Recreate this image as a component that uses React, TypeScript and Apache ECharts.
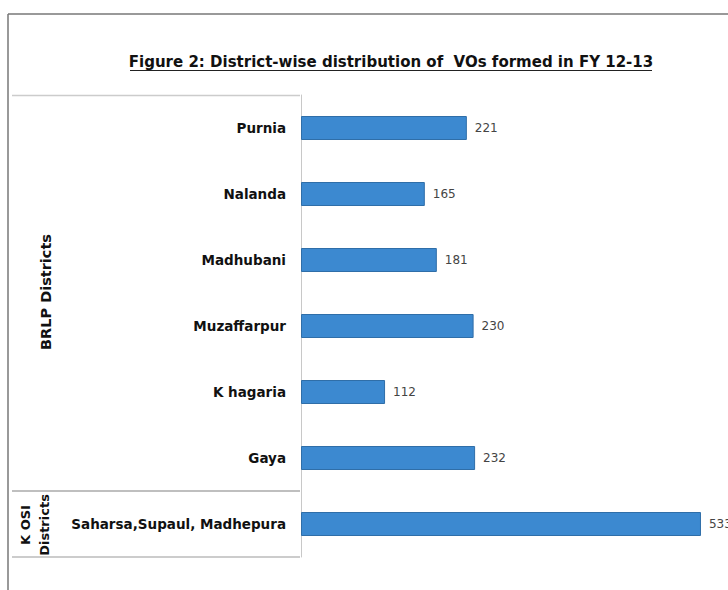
import React, { useEffect, useRef } from "react";
import * as echarts from "echarts";

const categories = [
  "Purnia",
  "Nalanda",
  "Madhubani",
  "Muzaffarpur",
  "K hagaria",
  "Gaya",
  "Saharsa,Supaul, Madhepura",
];
const values = [221, 165, 181, 230, 112, 232, 533];
const titleText = "Figure 2: District-wise distribution of  VOs formed in FY 12-13";
const groupLabels = ["BRLP Districts", "K OSI\nDistricts"];

export default function App() {
  const ref = useRef<HTMLDivElement>(null);
  useEffect(() => {
    if (!ref.current) return;
    const chart = echarts.init(ref.current, null, { renderer: "svg" });
    chart.setOption({
      animation: false,
      backgroundColor: "#ffffff",
      grid: { left: 301, right: 0, top: 95, bottom: 33, containLabel: false },
      xAxis: {
        type: "value",
        min: 0,
        max: 569,
        show: false,
      },
      yAxis: {
        type: "category",
        data: categories,
        inverse: true,
        axisLine: { show: true, lineStyle: { color: "#c8c8c8", width: 1 } },
        axisTick: { show: false },
        splitLine: { show: false },
        axisLabel: {
          margin: 15,
          color: "#111111",
          fontFamily: "DejaVu Sans",
          fontWeight: "bold",
          fontSize: 13.5,
        },
      },
      series: [
        {
          type: "bar",
          data: values,
          barWidth: 24,
          itemStyle: { color: "#3c89d0", borderColor: "#2f6ea8", borderWidth: 1 },
          label: {
            show: true,
            position: "right",
            distance: 8,
            color: "#444444",
            fontFamily: "DejaVu Sans",
            fontSize: 12,
          },
        },
      ],
      graphic: [
        { type: "line", shape: { x1: 8, y1: 14, x2: 728, y2: 14 }, style: { stroke: "#777", lineWidth: 1.5 } },
        { type: "line", shape: { x1: 8, y1: 14, x2: 8, y2: 590 }, style: { stroke: "#777", lineWidth: 1.5 } },
        { type: "line", shape: { x1: 12, y1: 95.5, x2: 300, y2: 95.5 }, style: { stroke: "#cccccc", lineWidth: 1.5 } },
        { type: "line", shape: { x1: 12, y1: 491, x2: 300, y2: 491 }, style: { stroke: "#aaaaaa", lineWidth: 1.5 } },
        { type: "line", shape: { x1: 12, y1: 557, x2: 300, y2: 557 }, style: { stroke: "#bbbbbb", lineWidth: 1.5 } },
        {
          type: "text",
          x: 391,
          y: 62,
          style: {
            text: titleText,
            fill: "#111",
            font: "bold 15px 'DejaVu Sans'",
            textAlign: "center",
            textVerticalAlign: "middle",
          },
        },
        { type: "line", shape: { x1: 130, y1: 70.5, x2: 652, y2: 70.5 }, style: { stroke: "#222", lineWidth: 1 } },
        {
          type: "text",
          x: 46,
          y: 292,
          rotation: Math.PI / 2,
          style: {
            text: groupLabels[0],
            fill: "#111",
            font: "bold 14.5px 'DejaVu Sans'",
            textAlign: "center",
            textVerticalAlign: "middle",
          },
        },
        {
          type: "text",
          x: 35,
          y: 525,
          rotation: Math.PI / 2,
          style: {
            text: groupLabels[1],
            fill: "#111",
            font: "bold 13px 'DejaVu Sans'",
            lineHeight: 19,
            textAlign: "center",
            textVerticalAlign: "middle",
          },
        },
      ],
    });
    return () => chart.dispose();
  }, []);
  return (
    <div
      ref={ref}
      style={{ position: "absolute", left: 0, top: 0, width: 728, height: 590 }}
    />
  );
}
